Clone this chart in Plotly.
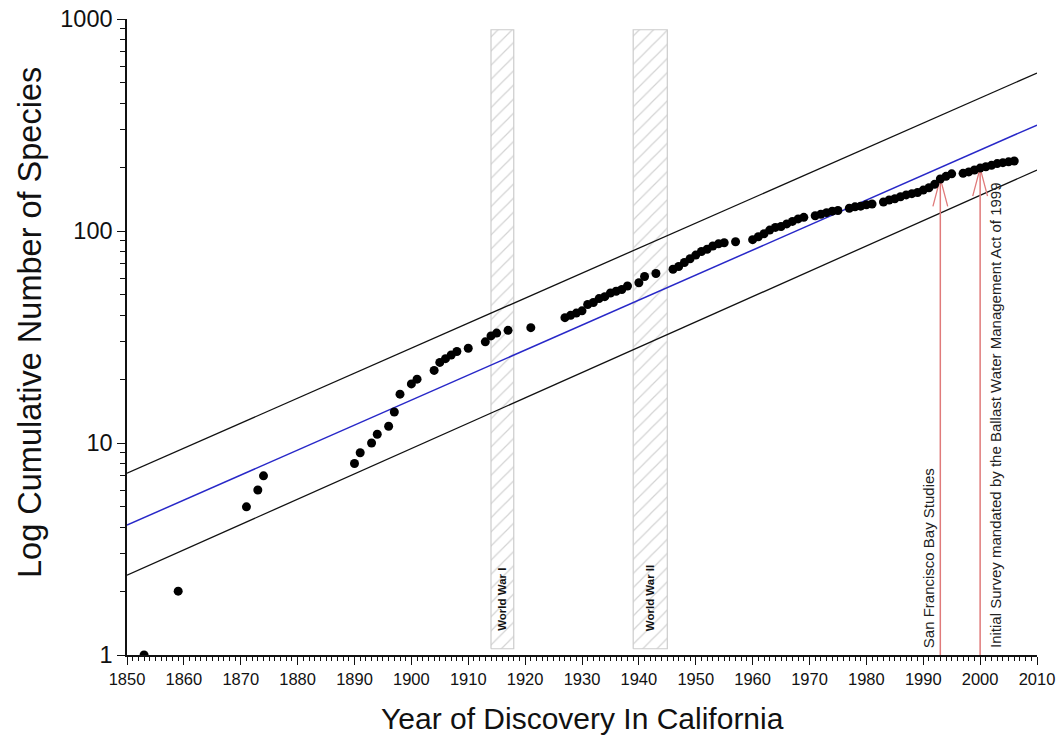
import plotly.graph_objects as go

# ---------------- data ----------------
years = [1853, 1859, 1871, 1873, 1874, 1890, 1891, 1893, 1894, 1896, 1897, 1898,
         1900, 1901, 1904, 1905, 1906, 1907, 1908, 1910, 1913, 1914, 1915, 1917,
         1921, 1927, 1928, 1929, 1930, 1931, 1932, 1933, 1934, 1935, 1936, 1937,
         1938, 1940, 1941, 1943, 1946, 1947, 1948, 1949, 1950, 1951, 1952, 1953,
         1954, 1955, 1957, 1960, 1961, 1962, 1963, 1964, 1965, 1966, 1967, 1968,
         1969, 1971, 1972, 1973, 1974, 1975, 1977, 1978, 1979, 1980, 1981, 1983,
         1984, 1985, 1986, 1987, 1988, 1989, 1990, 1991, 1992, 1993, 1994, 1995,
         1997, 1998, 1999, 2000, 2001, 2002, 2003, 2004, 2005, 2006]
species = [1, 2, 5, 6, 7, 8, 9, 10, 11, 12, 14, 17,
           19, 20, 22, 24, 25, 26, 27, 28, 30, 32, 33, 34,
           35, 39, 40, 41, 42, 45, 46, 48, 49, 51, 52, 53,
           55, 57, 61, 63, 66, 68, 71, 74, 77, 80, 82, 85,
           87, 88, 89, 91, 94, 97, 101, 104, 105, 108, 111, 114,
           116, 118, 120, 122, 124, 125, 128, 130, 131, 133, 134, 137,
           140, 142, 145, 148, 150, 152, 156, 160, 166, 176, 181, 186,
           187, 190, 194, 198, 201, 204, 208, 210, 212, 214]

fit_years = [1850, 2010]
fit_upper = [7.2, 556]
fit_mid = [4.1, 316]
fit_lower = [2.38, 194]

war_names = ["World War I", "World War II"]
war_start = [1914, 1939]
war_end = [1918, 1945]
band_low, band_high = 1.07, 890

event_names = ["San Francisco Bay Studies",
               "Initial Survey mandated by the Ballast Water Management Act of 1999"]
event_year = [1993, 2000]
event_tip = [177, 198]

x_ticks = list(range(1850, 2011, 10))

# ---------------- figure ----------------
FONT = "Liberation Sans, Arial, sans-serif"
fig = go.Figure()

# hatched war bands
for s, e in zip(war_start, war_end):
    fig.add_trace(go.Scatter(
        x=[s, e, e, s, s], y=[band_low, band_low, band_high, band_high, band_low],
        mode="lines", fill="toself", fillcolor="white",
        fillpattern=dict(shape="/", fgcolor="#a8a8a8", bgcolor="white", size=10, solidity=0.12),
        line=dict(color="#cccccc", width=1.2), hoverinfo="skip", showlegend=False))

# fit lines
fig.add_trace(go.Scatter(x=fit_years, y=fit_upper, mode="lines",
                         line=dict(color="#111111", width=1.3), showlegend=False))
fig.add_trace(go.Scatter(x=fit_years, y=fit_lower, mode="lines",
                         line=dict(color="#111111", width=1.3), showlegend=False))
fig.add_trace(go.Scatter(x=fit_years, y=fit_mid, mode="lines",
                         line=dict(color="#2828c8", width=1.5), showlegend=False))

# event arrows
ARROW = "#e07a7a"
arm_dec = 28 / 212.0
arm_dx = 1.3
for yr, tip in zip(event_year, event_tip):
    fig.add_trace(go.Scatter(x=[yr, yr], y=[1, tip], mode="lines",
                             line=dict(color=ARROW, width=1.5), showlegend=False))
    low = tip / 10 ** arm_dec
    fig.add_trace(go.Scatter(x=[yr - arm_dx, yr, yr + arm_dx], y=[low, tip, low], mode="lines",
                             line=dict(color=ARROW, width=1.3), showlegend=False))

# data points
fig.add_trace(go.Scatter(x=years, y=species, mode="markers",
                         marker=dict(color="black", size=9), showlegend=False))

annotations = []
for name, s, e in zip(war_names, war_start, war_end):
    annotations.append(dict(x=(s + e) / 2, y=0.104, xref="x", yref="y",
                            text="<b>%s</b>" % name, textangle=-90, showarrow=False,
                            xanchor="center", yanchor="bottom",
                            font=dict(family=FONT, size=11.5, color="#111111")))
for name, yr, shift in zip(event_names, event_year, [-11, 16]):
    annotations.append(dict(x=yr, y=0.024, xref="x", yref="y",
                            text=name, textangle=-90, showarrow=False, xshift=shift,
                            xanchor="center", yanchor="bottom",
                            font=dict(family=FONT, size=15, color="#222222")))
# axis titles
annotations.append(dict(x=0.5, y=-0.100, xref="paper", yref="paper",
                        text="Year of Discovery In California", showarrow=False,
                        xanchor="center", yanchor="middle",
                        font=dict(family=FONT, size=30, color="#111111")))
annotations.append(dict(x=-0.1066, y=0.5236, xref="paper", yref="paper",
                        text="Log Cumulative Number of Species", showarrow=False,
                        textangle=-90, xanchor="center", yanchor="middle",
                        font=dict(family=FONT, size=32.5, color="#111111")))
fig.update_layout(annotations=annotations)

fig.update_layout(
    width=1058, height=736,
    margin=dict(l=127, r=21, t=19, b=81, autoexpand=False),
    paper_bgcolor="white", plot_bgcolor="white",
    font=dict(family=FONT, color="#111111"),
    showlegend=False,
)
fig.update_xaxes(
    range=[1850, 2010], tickmode="array", tickvals=x_ticks,
    ticktext=[str(t) for t in x_ticks], automargin=False, ticklabeloverflow="allow",
    showgrid=False, zeroline=False, showline=True, linecolor="#111111", linewidth=1.5,
    ticks="outside", ticklen=8, tickwidth=1.3, tickcolor="#111111",
    tickfont=dict(size=16.5),
    minor=dict(dtick=1, ticks="outside", ticklen=4, tickwidth=1, tickcolor="#111111", showgrid=False),
)
fig.update_yaxes(
    type="log", range=[0, 3], tickvals=[1, 10, 100, 1000], ticktext=["1", "10", "100", "1000"],
    automargin=False, ticklabeloverflow="allow",
    showgrid=False, zeroline=False, showline=True, linecolor="#111111", linewidth=1.5,
    ticks="outside", ticklen=8, tickwidth=1.3, tickcolor="#111111",
    tickfont=dict(size=23.5),
    minor=dict(tickvals=[m * 10 ** d for d in range(3) for m in range(2, 10)],
               ticks="outside", ticklen=5, tickwidth=1, tickcolor="#111111", showgrid=False),
)

# let the figure fill the page from its top-left corner
fig.write_html("out.html", config={"displayModeBar": False},
               post_script="document.body.style.margin='0';document.body.style.overflow='hidden';")
